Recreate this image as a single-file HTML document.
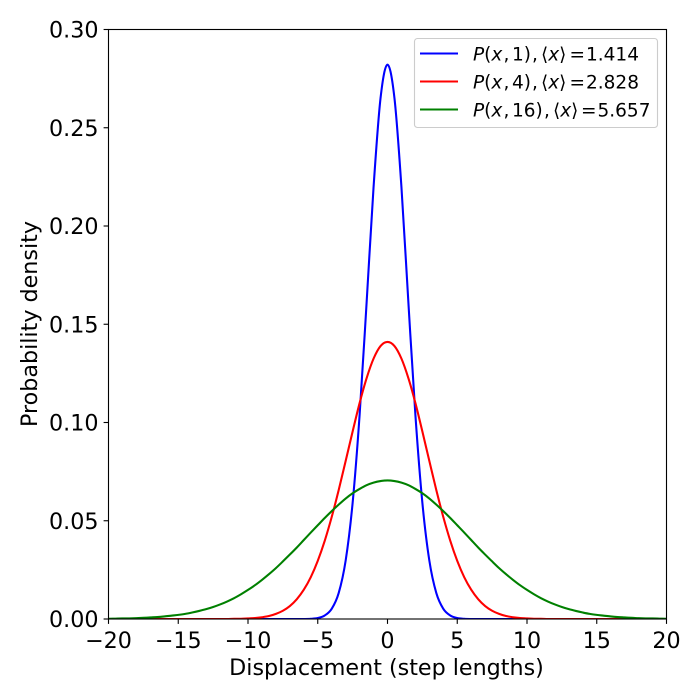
<!DOCTYPE html>
<html lang="en">
<head>
<meta charset="utf-8">
<title>Probability density of displacement</title>
<style>
html,body{margin:0;padding:0;background:#fff;width:700px;height:700px;overflow:hidden}
svg{display:block}
text{font-family:"DejaVu Sans",sans-serif;fill:#000}
</style>
</head>
<body>
<svg id="chart" width="700" height="700" viewBox="0 0 700 700" xmlns="http://www.w3.org/2000/svg">
  <defs><clipPath id="plot-clip"><rect x="108.5" y="29.5" width="558" height="589.5"/></clipPath></defs>
  <rect x="0" y="0" width="700" height="700" fill="#fff"/>
  <g id="series" clip-path="url(#plot-clip)"></g>
  <g id="ticks"></g>
  <rect x="108.5" y="29.5" width="558" height="589.5" fill="none" stroke="#000" stroke-width="1.11"/>
  <text x="386.5" y="675" font-size="22.22" text-anchor="middle">Displacement (step lengths)</text>
  <text transform="translate(37,324) rotate(-90)" font-size="22.22" text-anchor="middle">Probability density</text>
  <g>
    <rect x="414.5" y="38.5" width="243" height="89" rx="3" ry="3" fill="#fff" fill-opacity="0.8" stroke="#ccc" stroke-width="1.11"/>
    <g>
      <line x1="420" x2="458" y1="53.5" y2="53.5" stroke="#0000ff" stroke-width="2.08"/>
      <text y="60.5" font-size="18.5"><tspan x="473" font-style="italic">P</tspan>(<tspan font-style="italic">x</tspan><tspan x="503.5">,</tspan><tspan x="512">1)</tspan><tspan x="532">,</tspan><tspan x="541">⟨</tspan><tspan font-style="italic">x</tspan>⟩<tspan x="569.5">=</tspan><tspan x="586">1.414</tspan></text>
    </g>
    <g>
      <line x1="420" x2="458" y1="81.5" y2="81.5" stroke="#ff0000" stroke-width="2.08"/>
      <text y="88.5" font-size="18.5"><tspan x="473" font-style="italic">P</tspan>(<tspan font-style="italic">x</tspan><tspan x="503.5">,</tspan><tspan x="512">4)</tspan><tspan x="532">,</tspan><tspan x="541">⟨</tspan><tspan font-style="italic">x</tspan>⟩<tspan x="569.5">=</tspan><tspan x="586">2.828</tspan></text>
    </g>
    <g>
      <line x1="420" x2="458" y1="109.5" y2="109.5" stroke="#008000" stroke-width="2.08"/>
      <text y="116.5" font-size="18.5"><tspan x="473" font-style="italic">P</tspan>(<tspan font-style="italic">x</tspan><tspan x="503.5">,</tspan><tspan x="512">16)</tspan><tspan x="544">,</tspan><tspan x="553">⟨</tspan><tspan font-style="italic">x</tspan>⟩<tspan x="581">=</tspan><tspan x="597.5">5.657</tspan></text>
    </g>
  </g>
</svg>
<script>
const xSamples = [-20,-19.5,-19,-18.5,-18,-17.5,-17,-16.5,-16,-15.5,-15,-14.5,-14,-13.5,-13,-12.5,-12,-11.5,-11,-10.5,-10,-9.5,-9,-8.5,-8,-7.5,-7,-6.5,-6,-5.5,-5,-4.5,-4,-3.5,-3,-2.5,-2,-1.5,-1,-0.5,0,0.5,1,1.5,2,2.5,3,3.5,4,4.5,5,5.5,6,6.5,7,7.5,8,8.5,9,9.5,10,10.5,11,11.5,12,12.5,13,13.5,14,14.5,15,15.5,16,16.5,17,17.5,18,18.5,19,19.5,20];
const densityT1 = [0,0,0,0,0,0,0,0,0,0,0,0,0,0,0,0,0,0,0,0,0,0,0,0,0,0,0,0,0,0.0001,0.0005,0.0018,0.0052,0.0132,0.0297,0.0591,0.1038,0.1607,0.2197,0.2650,0.2821,0.2650,0.2197,0.1607,0.1038,0.0591,0.0297,0.0132,0.0052,0.0018,0.0005,0.0001,0,0,0,0,0,0,0,0,0,0,0,0,0,0,0,0,0,0,0,0,0,0,0,0,0,0,0,0,0];
const densityT4 = [0,0,0,0,0,0,0,0,0,0,0,0,0,0,0,0,0,0,0.0001,0.0001,0.0003,0.0005,0.0009,0.0015,0.0026,0.0042,0.0066,0.0101,0.0149,0.0213,0.0296,0.0398,0.0519,0.0656,0.0804,0.0954,0.1099,0.1225,0.1325,0.1389,0.1410,0.1389,0.1325,0.1225,0.1099,0.0954,0.0804,0.0656,0.0519,0.0398,0.0296,0.0213,0.0149,0.0101,0.0066,0.0042,0.0026,0.0015,0.0009,0.0005,0.0003,0.0001,0.0001,0,0,0,0,0,0,0,0,0,0,0,0,0,0,0,0,0,0];
const densityT16 = [0.0001,0.0002,0.0003,0.0003,0.0004,0.0006,0.0008,0.0010,0.0013,0.0017,0.0021,0.0026,0.0033,0.0041,0.0050,0.0061,0.0074,0.0089,0.0106,0.0126,0.0148,0.0172,0.0199,0.0228,0.0259,0.0293,0.0328,0.0364,0.0402,0.0440,0.0477,0.0514,0.0549,0.0582,0.0613,0.0640,0.0662,0.0681,0.0694,0.0702,0.0705,0.0702,0.0694,0.0681,0.0662,0.0640,0.0613,0.0582,0.0549,0.0514,0.0477,0.0440,0.0402,0.0364,0.0328,0.0293,0.0259,0.0228,0.0199,0.0172,0.0148,0.0126,0.0106,0.0089,0.0074,0.0061,0.0050,0.0041,0.0033,0.0026,0.0021,0.0017,0.0013,0.0010,0.0008,0.0006,0.0004,0.0003,0.0003,0.0002,0.0001];
const xTickValues = [-20,-15,-10,-5,0,5,10,15,20];
const xTickLabels = ["\u221220","\u221215","\u221210","\u22125","0","5","10","15","20"];
const yTickValues = [0,0.05,0.10,0.15,0.20,0.25,0.30];
const yTickLabels = ["0.00","0.05","0.10","0.15","0.20","0.25","0.30"];

const NS = "http://www.w3.org/2000/svg";
const xScale = v => 108.5 + (v + 20) / 40 * 558;
const yScale = v => 619 - v / 0.30 * 589.5;

function curvePath(xs, ys) {
  const p = xs.map((x, i) => [xScale(x), yScale(ys[i])]);
  let d = "M" + p[0][0].toFixed(2) + " " + p[0][1].toFixed(2);
  for (let i = 0; i < p.length - 1; i++) {
    const a = p[Math.max(i - 1, 0)], b = p[i], c = p[i + 1], e = p[Math.min(i + 2, p.length - 1)];
    const c1x = b[0] + (c[0] - a[0]) / 6, c1y = b[1] + (c[1] - a[1]) / 6;
    const c2x = c[0] - (e[0] - b[0]) / 6, c2y = c[1] - (e[1] - b[1]) / 6;
    d += "C" + c1x.toFixed(2) + " " + c1y.toFixed(2) + " " + c2x.toFixed(2) + " " + c2y.toFixed(2) + " " + c[0].toFixed(2) + " " + c[1].toFixed(2);
  }
  return d;
}

const seriesGroup = document.getElementById("series");
const tickGroup = document.getElementById("ticks");

const lineT1 = document.createElementNS(NS, "path");


lineT1.setAttribute("d", curvePath(xSamples, densityT1));
lineT1.setAttribute("stroke", "#0000ff");
seriesGroup.appendChild(lineT1);

const lineT4 = document.createElementNS(NS, "path");


lineT4.setAttribute("d", curvePath(xSamples, densityT4));
lineT4.setAttribute("stroke", "#ff0000");
seriesGroup.appendChild(lineT4);

const lineT16 = document.createElementNS(NS, "path");


lineT16.setAttribute("d", curvePath(xSamples, densityT16));
lineT16.setAttribute("stroke", "#008000");
seriesGroup.appendChild(lineT16);

[lineT1, lineT4, lineT16].forEach(l => {
  l.setAttribute("fill", "none");
  l.setAttribute("stroke-width", "2.08");
  l.setAttribute("stroke-linejoin", "round");
});

xTickValues.forEach((v, i) => {
  const x = xScale(v);
  const mark = document.createElementNS(NS, "line");
  
  
  mark.setAttribute("x1", x);
  mark.setAttribute("x2", x);
  mark.setAttribute("y1", 619);
  mark.setAttribute("y2", 623.9);
  mark.setAttribute("stroke", "#000");
  mark.setAttribute("stroke-width", "1.11");
  tickGroup.appendChild(mark);
  const label = document.createElementNS(NS, "text");
  
  
  label.setAttribute("x", x);
  label.setAttribute("y", 648);
  label.setAttribute("font-size", "22.22");
  label.setAttribute("text-anchor", "middle");
  label.textContent = xTickLabels[i];
  tickGroup.appendChild(label);
});

yTickValues.forEach((v, i) => {
  const y = yScale(v);
  const mark = document.createElementNS(NS, "line");
  
  
  mark.setAttribute("x1", 103.6);
  mark.setAttribute("x2", 108.5);
  mark.setAttribute("y1", y);
  mark.setAttribute("y2", y);
  mark.setAttribute("stroke", "#000");
  mark.setAttribute("stroke-width", "1.11");
  tickGroup.appendChild(mark);
  const label = document.createElementNS(NS, "text");
  
  
  label.setAttribute("x", 98.5);
  label.setAttribute("y", y + 8);
  label.setAttribute("font-size", "22.22");
  label.setAttribute("text-anchor", "end");
  label.textContent = yTickLabels[i];
  tickGroup.appendChild(label);
});
</script>
</body>
</html>
